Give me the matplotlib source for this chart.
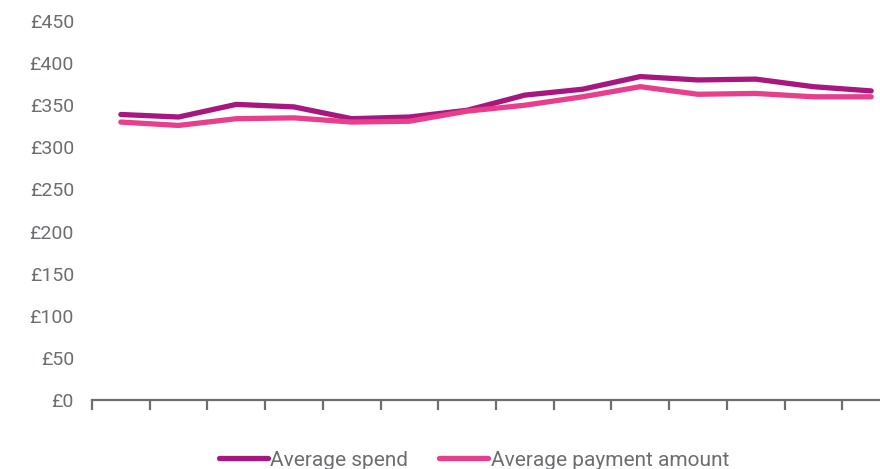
import numpy as np
import matplotlib
matplotlib.use("Agg")
import matplotlib.pyplot as plt
from matplotlib.ticker import FuncFormatter

# Data (14 periods, labels not shown)
periods = list(range(14))
avg_spend = [339, 336, 351, 348, 334, 336, 344, 362, 369, 384, 380, 381, 372, 367]
avg_payment = [330, 326, 334, 335, 330, 331, 343, 350, 360, 372, 363, 364, 360, 360]
y_ticks = [0, 50, 100, 150, 200, 250, 300, 350, 400, 450]

grey = "#6d6e71"
plt.rcParams["font.family"] = ["Roboto", "DejaVu Sans"]

fig = plt.figure(figsize=(8.8, 4.69), dpi=100)
ax = fig.add_axes([92 / 880, 1 - 400 / 469, 808 / 880, 379 / 469])

ax.plot(periods, avg_spend, color="#a8177f", lw=3.8, label="Average spend",
        solid_capstyle="round")
ax.plot(periods, avg_payment, color="#e83e8c", lw=3.8, label="Average payment amount",
        solid_capstyle="round")

ax.set_xlim(-0.5, 13.5)
ax.set_ylim(0, 450)
ax.set_yticks(y_ticks)
ax.yaxis.set_major_formatter(FuncFormatter(lambda v, p: "£%d" % v))
ax.set_xticks(np.arange(-0.5, 14, 1))
ax.set_xticklabels([])

for s in ["top", "right", "left"]:
    ax.spines[s].set_visible(False)
ax.spines["bottom"].set_color(grey)
ax.spines["bottom"].set_linewidth(1.6)
ax.tick_params(axis="x", direction="out", length=7, width=1.6, color=grey)
ax.tick_params(axis="y", length=0, pad=13, labelsize=14, labelcolor=grey)

fig.legend(loc="center", bbox_to_anchor=(474 / 880, 1 - 460 / 469), ncol=2,
           frameon=False, fontsize=15, labelcolor=grey, handlelength=2.35,
           handletextpad=0.12, columnspacing=1.5)

fig.savefig("out.png", dpi=100)
